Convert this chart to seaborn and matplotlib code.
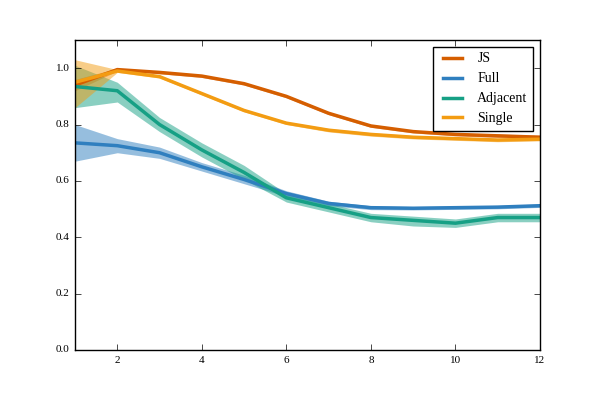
import matplotlib
matplotlib.use("Agg")
import matplotlib.pyplot as plt
import seaborn as sns
import pandas as pd
import numpy as np

x = [1, 2, 3, 4, 5, 6, 7, 8, 9, 10, 11, 12]
js = [0.94, 0.995, 0.985, 0.972, 0.945, 0.90, 0.84, 0.795, 0.775, 0.765, 0.76, 0.755]
js_lo = [0.92, 0.99, 0.98, 0.967, 0.94, 0.895, 0.835, 0.79, 0.77, 0.76, 0.754, 0.748]
js_hi = [0.96, 1.0, 0.99, 0.977, 0.95, 0.905, 0.845, 0.80, 0.78, 0.77, 0.766, 0.762]
full = [0.735, 0.725, 0.70, 0.65, 0.605, 0.555, 0.52, 0.505, 0.503, 0.505, 0.507, 0.512]
full_lo = [0.67, 0.70, 0.68, 0.635, 0.59, 0.545, 0.512, 0.498, 0.497, 0.499, 0.501, 0.506]
full_hi = [0.80, 0.75, 0.72, 0.665, 0.62, 0.565, 0.528, 0.512, 0.509, 0.511, 0.513, 0.518]
adj = [0.935, 0.92, 0.80, 0.71, 0.63, 0.54, 0.505, 0.47, 0.46, 0.45, 0.47, 0.47]
adj_lo = [0.86, 0.88, 0.775, 0.685, 0.605, 0.525, 0.49, 0.455, 0.44, 0.435, 0.455, 0.455]
adj_hi = [1.01, 0.95, 0.825, 0.735, 0.655, 0.555, 0.52, 0.485, 0.475, 0.465, 0.485, 0.485]
single = [0.95, 0.99, 0.97, 0.91, 0.85, 0.805, 0.78, 0.765, 0.755, 0.75, 0.745, 0.748]
single_lo = [0.86, 0.985, 0.965, 0.905, 0.845, 0.80, 0.774, 0.759, 0.749, 0.744, 0.739, 0.742]
single_hi = [1.03, 0.995, 0.975, 0.915, 0.855, 0.81, 0.786, 0.771, 0.761, 0.756, 0.751, 0.754]

series = [("JS", js, js_lo, js_hi, "#d55e00"),
          ("Full", full, full_lo, full_hi, "#2f7fbf"),
          ("Adjacent", adj, adj_lo, adj_hi, "#16a085"),
          ("Single", single, single_lo, single_hi, "#f39c12")]

plt.style.use("classic")
plt.rcParams["font.family"] = ["Liberation Serif", "DejaVu Serif"]
fig = plt.figure(figsize=(6, 4), dpi=100, facecolor="white")
ax = fig.add_axes([0.125, 0.125, 0.775, 0.775])
for name, y, lo, hi, c in series:
    df = pd.DataFrame({"x": x, "y": y})
    sns.lineplot(data=df, x="x", y="y", ax=ax, color=c, lw=2.5, label=name)
    ax.fill_between(x, lo, hi, color=c, alpha=0.5, lw=0)
ax.set_xlim(1, 12)
ax.set_ylim(0, 1.1)
ax.set_xticks([2, 4, 6, 8, 10, 12])
ax.set_yticks([0.0, 0.2, 0.4, 0.6, 0.8, 1.0])
ax.set_xlabel("")
ax.set_ylabel("")
ax.tick_params(labelsize=8)
ax.legend(loc="upper right", fontsize=10, frameon=True, fancybox=False)
fig.savefig("out.png", dpi=100, facecolor="white")
